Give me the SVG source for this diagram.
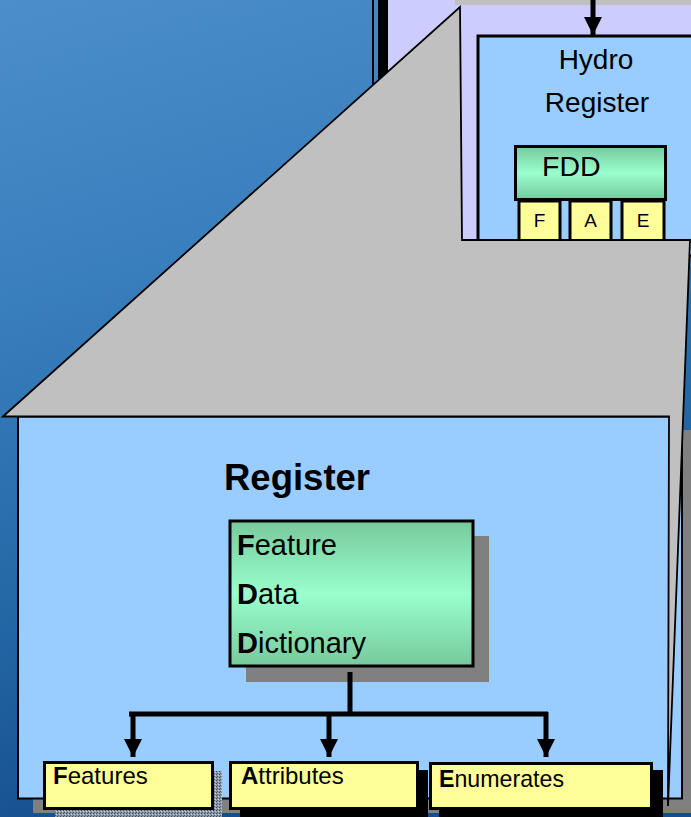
<svg xmlns="http://www.w3.org/2000/svg" width="691" height="817" viewBox="0 0 691 817">
  <defs>
    <linearGradient id="bg" x1="0" y1="0" x2="0.25" y2="1">
      <stop offset="0" stop-color="#4b8ecb"/>
      <stop offset="0.35" stop-color="#3a7fbd"/>
      <stop offset="0.7" stop-color="#2468a6"/>
      <stop offset="1" stop-color="#164d8e"/>
    </linearGradient>
    <linearGradient id="green" x1="0" y1="0" x2="0" y2="1">
      <stop offset="0" stop-color="#77c99c"/>
      <stop offset="0.5" stop-color="#99ffcc"/>
      <stop offset="1" stop-color="#77c99c"/>
    </linearGradient>
    <pattern id="dither" width="3" height="3" patternUnits="userSpaceOnUse">
      <rect width="3" height="3" fill="#8a9aa8"/>
      <rect x="0" y="0" width="1" height="1" fill="#404a58"/>
      <rect x="2" y="1" width="1" height="1" fill="#c8d0d8"/>
      <rect x="1" y="2" width="1" height="1" fill="#505c6a"/>
    </pattern>
    <marker id="arr" viewBox="0 0 18 18" refX="18" refY="9" markerWidth="18" markerHeight="18" markerUnits="userSpaceOnUse" orient="auto">
      <path d="M0,0 L18,9 L0,18 Z" fill="#000"/>
    </marker>
    <style>
      .t { font-family: "Liberation Sans", Arial, sans-serif; fill: #000; }
      .b { font-weight: bold; }
      .box { stroke: #000; stroke-width: 3; }
      .yel { fill: #ffff99; stroke: #000; stroke-width: 3; }
      .conn { stroke: #000; stroke-width: 5; fill: none; }
    </style>
  </defs>

  <!-- background -->
  <rect width="691" height="817" fill="url(#bg)"/>

  <!-- upper (original) diagram fragment -->
  <g id="upper-frame">
    <rect x="372" y="0" width="2" height="120" fill="#000"/>
    <rect x="378" y="0" width="10" height="120" fill="#000"/>
    <rect x="388" y="0" width="303" height="250" fill="#ccccff"/>
  </g>

  <g id="hydro-register">
    <rect x="478" y="36" width="230" height="220" fill="#99ccff" class="box"/>
    <text class="t" x="596" y="69" font-size="28" text-anchor="middle">Hydro</text>
    <text class="t" x="597" y="112" font-size="28" text-anchor="middle">Register</text>
  </g>

  <g id="hydro-fdd">
    <rect x="515.5" y="146.5" width="150" height="53" fill="url(#green)" class="box"/>
    <text class="t" x="542" y="176" font-size="28.5">FDD</text>
  </g>
  <g id="hydro-f">
    <rect x="519" y="201" width="41" height="40" class="yel"/>
    <text class="t" x="539.5" y="227" font-size="19" text-anchor="middle">F</text>
  </g>
  <g id="hydro-a">
    <rect x="570" y="201" width="41" height="40" class="yel"/>
    <text class="t" x="590.5" y="227" font-size="19" text-anchor="middle">A</text>
  </g>
  <g id="hydro-e">
    <rect x="622" y="201" width="42" height="40" class="yel"/>
    <text class="t" x="643" y="227" font-size="19" text-anchor="middle">E</text>
  </g>

  <!-- magnified register box (behind callout) -->
  <g id="register">
    <rect x="33" y="430" width="670" height="383" fill="#808080"/>
    <rect x="18" y="416.5" width="664" height="382" fill="#99ccff" stroke="#000" stroke-width="2"/>
  </g>

  <!-- callout (magnifier) shape -->
  <g id="callout">
    <rect x="455" y="0" width="236" height="5" fill="#c0c0c0"/>
    <path d="M3,416.5 L460,7 L462,240 L690,240 L668,806 L669,416.5 Z" fill="#c0c0c0" stroke="#000" stroke-width="1.8" stroke-linejoin="miter"/>
  </g>

  <g id="register-title">
    <text class="t b" x="224" y="490" font-size="36.5">Register</text>
  </g>

  <g id="fdd">
    <rect x="246" y="536" width="243" height="146" fill="#808080"/>
    <rect x="230" y="521" width="243" height="145" fill="url(#green)" class="box"/>
    <text class="t" x="237" y="555" font-size="29"><tspan class="b">F</tspan>eature</text>
    <text class="t" x="237" y="604" font-size="29"><tspan class="b">D</tspan>ata</text>
    <text class="t" x="237" y="653" font-size="29"><tspan class="b">D</tspan>ictionary</text>
  </g>

  <g id="features">
    <rect x="55" y="771" width="167" height="48" fill="url(#dither)"/>
    <rect x="44.5" y="762.5" width="168" height="46" class="yel"/>
    <text class="t" x="53" y="784" font-size="24"><tspan class="b">F</tspan>eatures</text>
  </g>

  <g id="attributes">
    <rect x="240" y="770" width="188" height="50" fill="#000"/>
    <rect x="230.5" y="762.5" width="187" height="46" class="yel"/>
    <text class="t" x="241" y="784" font-size="24"><tspan class="b">A</tspan>ttributes</text>
  </g>

  <g id="enumerates">
    <rect x="439" y="770" width="224" height="50" fill="#000"/>
    <rect x="430.5" y="763.5" width="221" height="45" class="yel"/>
    <text class="t" x="439" y="787" font-size="23.2"><tspan class="b">E</tspan>numerates</text>
  </g>

  <!-- connectors -->
  <g id="connectors">
    <line x1="593" y1="0" x2="593" y2="35" class="conn" stroke-width="5" marker-end="url(#arr)"/>
    <line x1="350" y1="672" x2="350" y2="716" class="conn"/>
    <line x1="129" y1="714" x2="548" y2="714" class="conn"/>
    <line x1="133" y1="712" x2="133" y2="757" class="conn" marker-end="url(#arr)"/>
    <line x1="329" y1="712" x2="329" y2="757" class="conn" marker-end="url(#arr)"/>
    <line x1="546" y1="712" x2="546" y2="757" class="conn" marker-end="url(#arr)"/>
  </g>
</svg>
